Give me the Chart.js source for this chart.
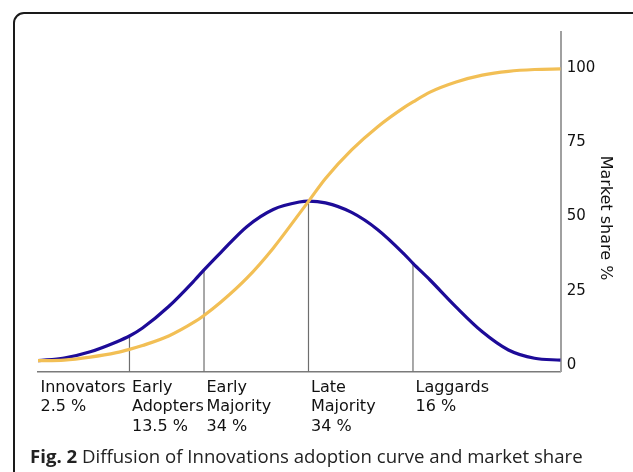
<!DOCTYPE html>
<html>
<head>
<meta charset="utf-8">
<script src="https://cdn.jsdelivr.net/npm/chart.js@4/dist/chart.umd.min.js"></script>
<style>
  html, body { margin: 0; padding: 0; background: #fff; }
  #wrap { position: relative; width: 633px; height: 472px; overflow: hidden; }
  #frame { position: absolute; left: 13px; top: 12px; width: 640px; height: 520px;
           border: 2px solid #1a1a1a; border-radius: 11px; box-sizing: border-box; }
  #chart { position: absolute; left: 0; top: 0; }
  #caption { position: absolute; left: 30px; top: 444px; font-family: "Open Sans", sans-serif;
             font-size: 18.6px; line-height: 24px; color: #222; white-space: nowrap; }
  #caption b { font-weight: 700; }
</style>
</head>
<body>
<div id="wrap">
  <div id="frame"></div>
  <canvas id="chart" width="633" height="472"></canvas>
  <div id="caption"><b>Fig. 2</b> Diffusion of Innovations adoption curve and market share</div>
</div>
<script>
// time axis (0 = start of diffusion, 100 = saturation)
const xValues = [0, 5, 10, 15, 17.5, 20, 25, 30, 31.76, 35, 40, 45, 50, 51.75, 55, 60, 65, 70, 71.74, 75, 80, 85, 90, 95, 100];
// adoption curve (blue)
const adoption = [1.6, 2.5, 4.6, 7.9, 9.9, 12.6, 19.8, 28.7, 32.1, 38.0, 46.7, 52.4, 54.9, 55.2, 54.6, 51.4, 45.6, 37.5, 34.3, 28.7, 19.6, 11.3, 5.2, 2.4, 1.8];
// market share (yellow)
const marketShare = [1.6, 1.8, 2.8, 4.3, 5.4, 6.7, 9.9, 14.7, 16.8, 21.3, 29.4, 39.4, 51.0, 55.1, 62.8, 72.4, 80.2, 86.6, 88.5, 91.8, 95.2, 97.5, 98.8, 99.4, 99.6];
// category boundaries
const boundaryX = [17.5, 31.76, 51.75, 71.74];
const boundaryTop = [9.9, 32.1, 55.2, 34.3];
// category labels
const categoryX = [0, 17.5, 31.76, 51.75, 71.74];
const categoryLabels = [
  ["Innovators", "2.5 %"],
  ["Early", "Adopters", "13.5 %"],
  ["Early", "Majority", "34 %"],
  ["Late", "Majority", "34 %"],
  ["Laggards", "16 %"]
];
const yTicks = [0, 25, 50, 75, 100];
const yTitle = "Market share %";

const Y_MIN = -2.1, Y_MAX = 112;

const boundaryData = [];
boundaryX.forEach((x, i) => {
  boundaryData.push({x: x, y: Y_MIN});
  boundaryData.push({x: x, y: boundaryTop[i]});
  boundaryData.push({x: x, y: null});
});

const yTitlePlugin = {
  id: 'yTitle',
  afterDraw(chart) {
    const ctx = chart.ctx;
    ctx.save();
    ctx.translate(605, 218);
    ctx.rotate(Math.PI / 2);
    ctx.font = '16px "DejaVu Sans"';
    ctx.fillStyle = '#111';
    ctx.textAlign = 'center';
    ctx.textBaseline = 'middle';
    ctx.fillText(yTitle, 0, 0);
    ctx.restore();
  }
};

new Chart(document.getElementById('chart'), {
  type: 'line',
  data: {
    datasets: [
      { label: 'Market share', data: xValues.map((x, i) => ({x: x, y: marketShare[i]})),
        borderColor: '#f2bf55', borderWidth: 3.2, pointRadius: 0, cubicInterpolationMode: 'monotone', fill: false },
      { label: 'Adoption', data: xValues.map((x, i) => ({x: x, y: adoption[i]})),
        borderColor: '#1d0b98', borderWidth: 3.2, pointRadius: 0, cubicInterpolationMode: 'monotone', fill: false },
      { label: 'Boundaries', data: boundaryData, borderColor: '#6e6e6e', borderWidth: 1.2,
        pointRadius: 0, tension: 0, spanGaps: false, fill: false }
    ]
  },
  options: {
    responsive: false,
    animation: false,
    events: [],
    layout: { padding: { left: 38, top: 32, right: 0, bottom: 0 } },
    plugins: { legend: { display: false }, tooltip: { enabled: false }, title: { display: false } },
    scales: {
      x: {
        type: 'linear', min: 0, max: 100,
        grid: { display: false, drawTicks: false },
        border: { display: true, color: '#7a7a7a', width: 1.5 },
        afterFit(scale) { scale.height = 100.3; },
        afterBuildTicks(scale) { scale.ticks = categoryX.map(v => ({value: v})); },
        ticks: {
          autoSkip: false, maxRotation: 0, minRotation: 0, align: 'start', labelOffset: 2.5, padding: 6,
          color: '#111', font: { family: '"DejaVu Sans"', size: 16, lineHeight: 1.22 },
          callback: (value, index) => categoryLabels[index]
        }
      },
      y: {
        position: 'right', min: Y_MIN, max: Y_MAX,
        grid: { display: false, drawTicks: false },
        border: { display: true, color: '#a0a0a0', width: 2 },
        afterFit(scale) { scale.width = 72.3; },
        afterBuildTicks(scale) { scale.ticks = yTicks.map(v => ({value: v})); },
        ticks: { padding: 6, color: '#111', font: { family: '"DejaVu Sans"', size: 15 } }
      }
    }
  },
  plugins: [yTitlePlugin]
});
</script>
</body>
</html>
